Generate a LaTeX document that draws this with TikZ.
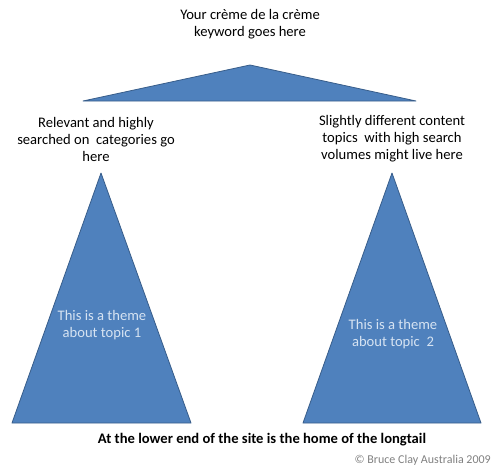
\documentclass[tikz,border=0pt]{standalone}
\usepackage{fontspec}
\setmainfont{Carlito}
\usetikzlibrary{positioning}

\definecolor{pyrfill}{HTML}{4F81BD}
\definecolor{pyrline}{HTML}{385D8A}
\definecolor{pyrtext}{HTML}{D6E3F2}

\begin{document}
\begin{tikzpicture}[x=1pt,y=-1pt,
    pyramid/.style={fill=pyrfill,draw=pyrline,line width=0.8pt,line join=round},
    caption/.style={align=center,font=\fontsize{14.6}{17}\selectfont,inner sep=0pt},
    inside/.style={caption,text=pyrtext}]

                \useasboundingbox (0,0) rectangle (500,474);

                \coordinate (topapex) at (250,65);

                \coordinate (leftapex) at (101,173);

                \coordinate (rightapex) at (392,173);

                

                \draw[pyramid] (topapex) -- (416,101) -- (83,101) -- cycle;

                \draw[pyramid] (leftapex) -- (191,423) -- (12,423) -- cycle;

                \draw[pyramid] (rightapex) -- (481,423) -- (303,423) -- cycle;

                

                \node[caption] (keyword) at (250,24) {Your crème de la crème\\keyword goes here};

                \node[caption] (categories) at (96,139) {Relevant and highly\\searched on\ \ categories go\\here};

                \node[caption] (topics) at (392,139) {Slightly different content\\topics\ \ with high search\\volumes might live here};

                

                \node[inside] (theme1) at (102,325) {This is a theme\\about topic 1};

                \node[inside] (theme2) at (393,334) {This is a theme\\about topic\ \ 2};

                

                \node[caption,font=\bfseries\fontsize{14.6}{17}\selectfont] (longtail) at (262,440) {At the lower end of the site is the home of the longtail};

                \node[inner sep=0pt,text=gray,font=\fontsize{12}{14}\selectfont,anchor=east] (copyright) at (491,460) {© Bruce Clay Australia 2009};

            \end{tikzpicture}
\end{document}
